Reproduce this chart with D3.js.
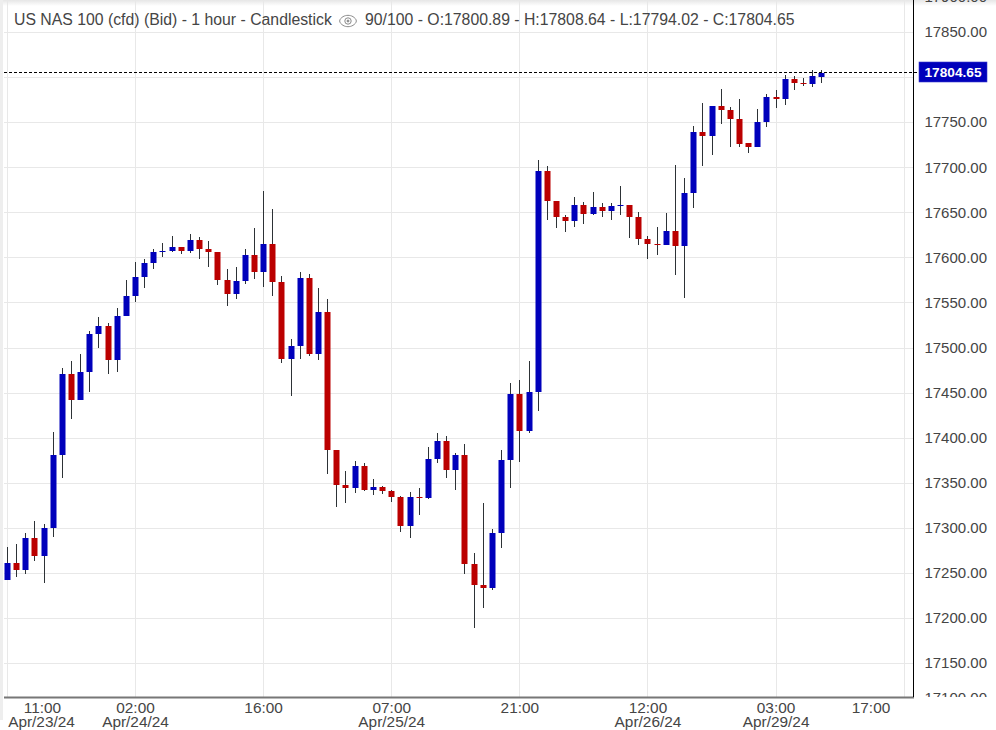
<!DOCTYPE html>
<html><head><meta charset="utf-8">
<script src="https://cdnjs.cloudflare.com/ajax/libs/d3/7.8.5/d3.min.js"></script>
<style>html,body{margin:0;padding:0;background:#fff;overflow:hidden}svg{display:block}text{font-family:"Liberation Sans",Arial,sans-serif}</style>
</head><body><svg id="c" width="996" height="730"></svg>
<script>
const titleMain = "US NAS 100 (cfd) (Bid) - 1 hour - Candlestick";
const titleInfo = "90/100 - O:17800.89 - H:17808.64 - L:17794.02 - C:17804.65";
const lastPrice = 17804.65;
const priceTicks = [17900,17850,17800,17750,17700,17650,17600,17550,17500,17450,17400,17350,17300,17250,17200,17150,17100];
const timeTickSlots = [0,14,28,42,56,70,84,98];
const timeTickLabels = ["11:00","02:00","16:00","07:00","21:00","12:00","03:00","17:00"];
const dateTickLabels = ["Apr/23/24","Apr/24/24","","Apr/25/24","","Apr/26/24","Apr/29/24",""];

const opens = [17242.6,17261.5,17253.7,17289.2,17269.2,17300.3,17381.3,17471.1,17442.3,17473.4,
17515.5,17524.4,17486.7,17535.5,17557.6,17578.7,17594.3,17606.5,17607.6,17612.0,
17607.6,17619.8,17609.8,17606.5,17575.4,17559.9,17574.3,17603.1,17584.3,17615.4,
17573.2,17487.8,17502.2,17577.6,17493.3,17539.9,17386.8,17348.0,17344.7,17369.1,
17342.4,17345.8,17341.3,17334.7,17302.5,17334.7,17333.6,17376.8,17396.8,17364.6,
17381.3,17260.4,17237.1,17233.7,17294.7,17375.7,17448.9,17407.9,17451.2,17696.3,
17663.1,17645.3,17640.9,17658.6,17648.6,17656.4,17652.0,17657.5,17658.6,17645.3,
17620.9,17615.4,17614.2,17629.8,17613.1,17671.9,17739.6,17735.2,17768.4,17764.0,
17754.0,17727.4,17723.0,17750.7,17778.4,17776.2,17798.4,17794.0,17792.9,17800.89];
const highs = [17279.2,17282.5,17294.7,17308.1,17304.7,17406.8,17477.8,17485.5,17493.3,17518.8,
17534.4,17527.7,17544.4,17575.4,17595.4,17598.7,17609.8,17616.5,17624.2,17612.0,
17626.4,17623.1,17618.7,17606.5,17587.6,17589.8,17609.8,17633.1,17674.2,17654.2,
17579.8,17510.0,17584.3,17582.1,17566.5,17554.3,17386.8,17363.5,17374.6,17372.4,
17354.7,17346.9,17342.4,17335.8,17340.2,17344.7,17390.1,17405.7,17402.3,17383.5,
17393.5,17272.6,17328.0,17299.2,17386.8,17461.1,17464.5,17485.5,17708.6,17701.9,
17663.1,17647.5,17667.5,17662.0,17673.0,17660.8,17660.8,17679.7,17658.6,17650.8,
17624.2,17634.2,17649.7,17703.0,17688.6,17746.3,17771.8,17768.4,17787.3,17767.3,
17776.2,17727.4,17765.1,17781.8,17786.2,17802.8,17801.7,17799.5,17808.4,17808.64];
const lows = [17242.6,17245.9,17249.3,17263.7,17239.3,17290.3,17355.8,17421.2,17442.3,17451.2,
17500.0,17471.1,17473.4,17535.5,17551.0,17566.5,17587.6,17600.9,17606.5,17604.3,
17605.4,17598.7,17589.8,17569.9,17546.6,17554.3,17571.0,17576.5,17567.6,17557.6,
17483.3,17446.7,17487.8,17491.1,17486.7,17360.2,17323.6,17328.0,17339.1,17341.3,
17336.9,17338.0,17329.1,17295.8,17289.2,17314.7,17332.5,17372.4,17355.8,17342.4,
17249.3,17189.3,17211.5,17231.5,17278.1,17344.7,17373.5,17405.7,17430.1,17642.0,
17633.1,17628.7,17634.2,17637.5,17647.5,17645.3,17642.0,17647.5,17622.0,17614.2,
17598.7,17603.1,17614.2,17581.0,17555.4,17655.3,17701.9,17714.1,17748.5,17723.0,
17723.0,17716.3,17723.0,17745.1,17766.2,17769.6,17786.2,17790.6,17789.5,17794.02];
const closes = [17261.5,17253.7,17289.2,17269.2,17300.3,17381.3,17471.1,17442.3,17473.4,17515.5,
17524.4,17486.7,17535.5,17557.6,17578.7,17594.3,17606.5,17607.6,17612.0,17607.6,
17619.8,17609.8,17606.5,17575.4,17559.9,17574.3,17603.1,17584.3,17615.4,17573.2,
17487.8,17502.2,17577.6,17493.3,17539.9,17386.8,17348.0,17344.7,17369.1,17342.4,
17345.8,17341.3,17334.7,17302.5,17334.7,17333.6,17376.8,17396.8,17364.6,17381.3,
17260.4,17237.1,17233.7,17294.7,17375.7,17448.9,17407.9,17451.2,17696.3,17663.1,
17645.3,17640.9,17658.6,17648.6,17656.4,17652.0,17657.5,17658.6,17645.3,17620.9,
17615.4,17614.2,17629.8,17613.1,17671.9,17739.6,17735.2,17768.4,17764.0,17754.0,
17726.3,17723.0,17750.7,17778.4,17776.2,17798.4,17794.0,17792.9,17801.7,17804.65];

const W=996,H=730, plotL=4, plotR=913.5, plotB=697;
const txt="#454545", gridC="#e8e8e8", blue="#0000bb", red="#bb0000", wick="#2d3236";
const svg=d3.select("#c");
const x=d3.scaleLinear().domain([0,98]).range([7.4,904.2]);
const y=d3.scaleLinear().domain([17150,17850]).range([663.5,32.5]);
const defs=svg.append("defs");
const g1=defs.append("linearGradient").attr("id","topShade").attr("x1",0).attr("x2",0).attr("y1",0).attr("y2",1);
g1.append("stop").attr("offset",0).attr("stop-color","#e6e6e6");
g1.append("stop").attr("offset",1).attr("stop-color","#fff");
defs.append("clipPath").attr("id","axisClip").append("rect").attr("x",915).attr("y",0).attr("width",81).attr("height",plotB);

svg.append("rect").attr("width",W).attr("height",H).attr("fill","#fff");
svg.append("rect").attr("width",W).attr("height",6).attr("fill","url(#topShade)");
svg.append("rect").attr("x",0).attr("y",0).attr("width",3).attr("height",720).attr("fill","#eeeeee");

// grid
svg.append("g").selectAll("line").data(priceTicks.filter(t=>t>=17150&&t<=17850)).join("line")
 .attr("x1",plotL).attr("x2",plotR).attr("y1",d=>Math.floor(y(d))+.5).attr("y2",d=>Math.floor(y(d))+.5)
 .attr("stroke",gridC).attr("stroke-width",1);
svg.append("g").selectAll("line").data(timeTickSlots).join("line")
 .attr("x1",d=>Math.floor(x(d))+.5).attr("x2",d=>Math.floor(x(d))+.5).attr("y1",0).attr("y2",plotB)
 .attr("stroke",gridC).attr("stroke-width",1);

// candles
const idx=d3.range(opens.length);
const cx=i=>Math.floor(x(i));
svg.append("g").selectAll("line").data(idx).join("line")
 .attr("x1",i=>cx(i)+.5).attr("x2",i=>cx(i)+.5)
 .attr("y1",i=>Math.round(y(highs[i]))).attr("y2",i=>Math.round(y(lows[i])))
 .attr("stroke",wick).attr("stroke-width",1);
svg.append("g").selectAll("rect").data(idx).join("rect")
 .attr("x",i=>cx(i)-2.5).attr("width",6)
 .attr("y",i=>Math.round(y(Math.max(opens[i],closes[i]))))
 .attr("height",i=>Math.max(1,Math.round(y(Math.min(opens[i],closes[i])))-Math.round(y(Math.max(opens[i],closes[i])))))
 .attr("fill",i=>closes[i]>=opens[i]?blue:red);

// last price line
const lastY=Math.floor(y(lastPrice))-0.5;
svg.append("line").attr("x1",plotL).attr("x2",919).attr("y1",lastY).attr("y2",lastY)
 .attr("stroke","#000").attr("stroke-width",1).attr("stroke-dasharray","3,2");

// axes lines
svg.append("line").attr("x1",plotL).attr("x2",plotR+.5).attr("y1",plotB+.5).attr("y2",plotB+.5).attr("stroke","#777").attr("stroke-width",2);
svg.append("line").attr("x1",plotR).attr("x2",plotR).attr("y1",0).attr("y2",plotB).attr("stroke","#000").attr("stroke-width",1);

// price labels
svg.append("g").attr("clip-path","url(#axisClip)").selectAll("text").data(priceTicks).join("text")
 .attr("x",987).attr("text-anchor","end").attr("dominant-baseline","central")
 .attr("y",d=>Math.max(-4,Math.min(697,y(d)-.7)))
 .attr("font-size",15).attr("fill",txt).text(d=>d.toFixed(2));

// last price badge
svg.append("rect").attr("x",919).attr("y",62).attr("width",68).attr("height",20).attr("fill",blue).attr("stroke","#3a3acb").attr("stroke-width",.6);
svg.append("text").attr("x",953).attr("y",72).attr("text-anchor","middle").attr("dominant-baseline","central")
 .attr("font-size",13.7).attr("font-weight",700).attr("fill","#fff").text(lastPrice.toFixed(2));

// time labels
const labelX=(k)=>k===0?42.5:k===timeTickSlots.length-1?871:x(timeTickSlots[k]);
const tl=svg.append("g");
timeTickLabels.forEach((t,k)=>{
 tl.append("text").attr("x",labelX(k)).attr("y",713).attr("text-anchor","middle").attr("font-size",15.4).attr("fill",txt).text(t);
 if(dateTickLabels[k]) tl.append("text").attr("x",k===0?41.5:labelX(k)).attr("y",727).attr("text-anchor","middle").attr("font-size",15.4).attr("fill",txt).text(dateTickLabels[k]);
});

// title
svg.append("text").attr("x",14).attr("y",25).attr("font-size",15.8).attr("fill",txt).text(titleMain);
svg.append("text").attr("x",365).attr("y",25).attr("font-size",15.8).attr("fill",txt).text(titleInfo);
const eye=svg.append("g").attr("transform","translate(348,21)").attr("fill","none").attr("stroke","#8a8a8a").attr("stroke-width",1);
eye.append("path").attr("d",d3.line().curve(d3.curveBasisClosed)([[-10,0],[-5,-5],[0,-6],[5,-5],[10,0],[5,5],[0,6],[-5,5]]));
eye.append("circle").attr("r",3.2);
eye.append("circle").attr("r",1).attr("fill","#8a8a8a");
</script></body></html>
